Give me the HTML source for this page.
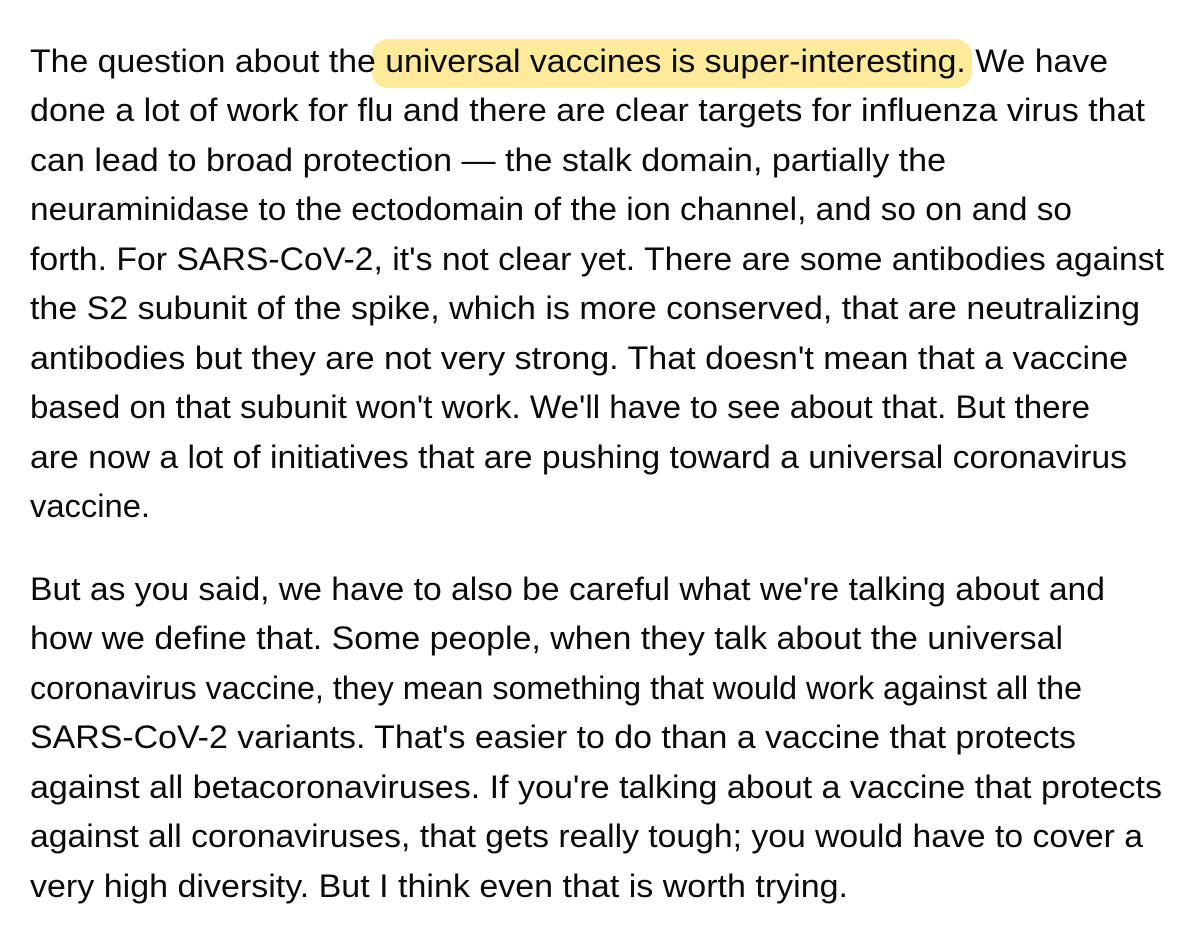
<!DOCTYPE html>
<html><head><meta charset="utf-8"><style>
html,body{margin:0;padding:0;background:#fff;width:1200px;height:946px;overflow:hidden}
text{font-family:"Liberation Sans",Arial,sans-serif;font-size:32px;fill:#0a0a0a}
</style></head><body>
<svg width="1200" height="946">
<rect x="372" y="39" width="600" height="49" rx="16" fill="#fdeb9b"/>
<g>
<text x="30" y="72" textLength="1078" lengthAdjust="spacingAndGlyphs">The question about the universal vaccines is super-interesting. We have</text>
<text x="30" y="121" textLength="1115" lengthAdjust="spacingAndGlyphs">done a lot of work for flu and there are clear targets for influenza virus that</text>
<text x="30" y="171" textLength="916" lengthAdjust="spacingAndGlyphs">can lead to broad protection — the stalk domain, partially the</text>
<text x="30" y="220" textLength="1042" lengthAdjust="spacingAndGlyphs">neuraminidase to the ectodomain of the ion channel, and so on and so</text>
<text x="30" y="270" textLength="1134" lengthAdjust="spacingAndGlyphs">forth. For SARS-CoV-2, it's not clear yet. There are some antibodies against</text>
<text x="30" y="319" textLength="1110" lengthAdjust="spacingAndGlyphs">the S2 subunit of the spike, which is more conserved, that are neutralizing</text>
<text x="30" y="369" textLength="1098" lengthAdjust="spacingAndGlyphs">antibodies but they are not very strong. That doesn't mean that a vaccine</text>
<text x="30" y="418" textLength="1060" lengthAdjust="spacingAndGlyphs">based on that subunit won't work. We'll have to see about that. But there</text>
<text x="30" y="468" textLength="1097" lengthAdjust="spacingAndGlyphs">are now a lot of initiatives that are pushing toward a universal coronavirus</text>
<text x="30" y="517" textLength="120" lengthAdjust="spacingAndGlyphs">vaccine.</text>
</g>
<g>
<text x="30" y="600" textLength="1075" lengthAdjust="spacingAndGlyphs">But as you said, we have to also be careful what we're talking about and</text>
<text x="30" y="649" textLength="1033" lengthAdjust="spacingAndGlyphs">how we define that. Some people, when they talk about the universal</text>
<text x="30" y="699" textLength="1052" lengthAdjust="spacingAndGlyphs">coronavirus vaccine, they mean something that would work against all the</text>
<text x="30" y="748" textLength="1046" lengthAdjust="spacingAndGlyphs">SARS-CoV-2 variants. That's easier to do than a vaccine that protects</text>
<text x="30" y="798" textLength="1132" lengthAdjust="spacingAndGlyphs">against all betacoronaviruses. If you're talking about a vaccine that protects</text>
<text x="30" y="847" textLength="1113" lengthAdjust="spacingAndGlyphs">against all coronaviruses, that gets really tough; you would have to cover a</text>
<text x="30" y="897" textLength="818" lengthAdjust="spacingAndGlyphs">very high diversity. But I think even that is worth trying.</text>
</g>
</svg>
</body></html>
